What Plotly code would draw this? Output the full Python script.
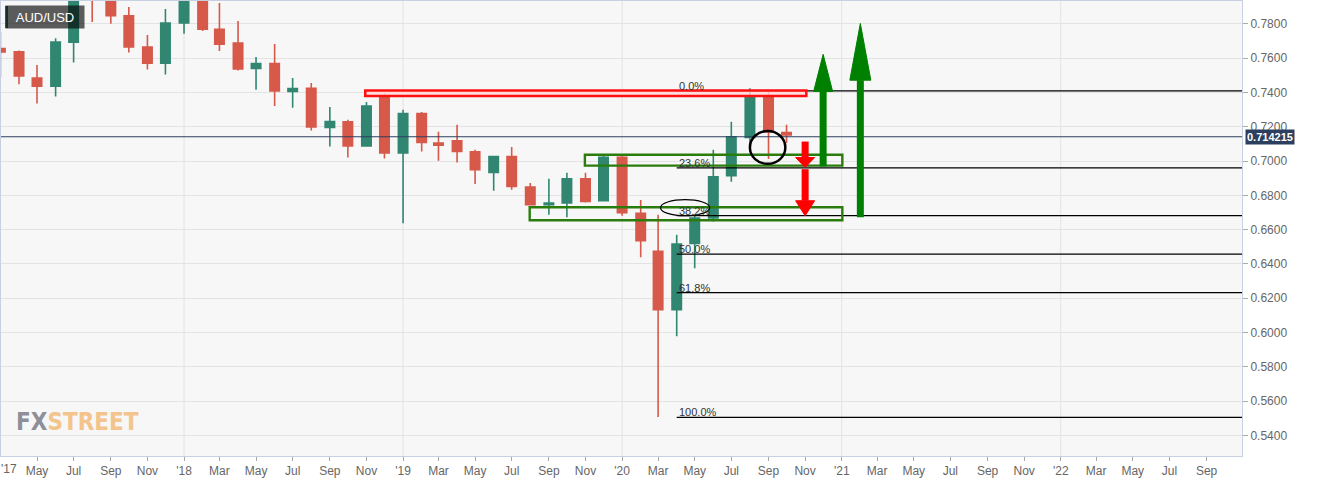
import pandas as pd
import plotly.graph_objects as go

# monthly AUD/USD candles
months = [
    '2017-03', '2017-04', '2017-05', '2017-06', '2017-07', '2017-08', '2017-09', '2017-10', '2017-11', '2017-12',
    '2018-01', '2018-02', '2018-03', '2018-04', '2018-05', '2018-06', '2018-07', '2018-08', '2018-09', '2018-10',
    '2018-11', '2018-12', '2019-01', '2019-02', '2019-03', '2019-04', '2019-05', '2019-06', '2019-07', '2019-08',
    '2019-09', '2019-10', '2019-11', '2019-12', '2020-01', '2020-02', '2020-03', '2020-04', '2020-05', '2020-06',
    '2020-07', '2020-08', '2020-09', '2020-10',
]
opens = [
    0.7656, 0.7637, 0.7484, 0.7437, 0.7693, 0.7995, 0.7950, 0.7847, 0.7666, 0.7571,
    0.7806, 0.8090, 0.7769, 0.7689, 0.7540, 0.7569, 0.7406, 0.7425, 0.7196, 0.7229,
    0.7089, 0.7375, 0.7047, 0.7277, 0.7105, 0.7118, 0.7054, 0.6934, 0.7027, 0.6849,
    0.6746, 0.6756, 0.6897, 0.6769, 0.7022, 0.6695, 0.6474, 0.6134, 0.6520, 0.6668,
    0.6915, 0.7138, 0.7375, 0.7167,
]
highs = [
    0.7753, 0.7645, 0.7561, 0.7717, 0.8066, 0.8066, 0.8125, 0.7899, 0.7736, 0.7887,
    0.8136, 0.8135, 0.7922, 0.7817, 0.7608, 0.7683, 0.7485, 0.7456, 0.7316, 0.7241,
    0.7345, 0.7394, 0.7299, 0.7287, 0.7171, 0.7212, 0.7066, 0.7031, 0.7083, 0.6873,
    0.6897, 0.6932, 0.6932, 0.7041, 0.7041, 0.6773, 0.6687, 0.6571, 0.6684, 0.7066,
    0.7229, 0.7425, 0.7410, 0.7212,
]
lows = [
    0.7491, 0.7449, 0.7336, 0.7377, 0.7575, 0.7812, 0.7802, 0.7633, 0.7534, 0.7505,
    0.7743, 0.7759, 0.7643, 0.7528, 0.7416, 0.7322, 0.7312, 0.7178, 0.7085, 0.7021,
    0.7089, 0.7015, 0.6637, 0.7056, 0.7002, 0.6992, 0.6866, 0.6827, 0.6833, 0.6744,
    0.6687, 0.6672, 0.6759, 0.6765, 0.6682, 0.6439, 0.5507, 0.5978, 0.6375, 0.6648,
    0.6880, 0.7080, 0.7012, 0.7105,
]
closes = [
    0.7637, 0.7497, 0.7437, 0.7695, 0.7995, 0.7950, 0.7848, 0.7666, 0.7571, 0.7806,
    0.8090, 0.7769, 0.7682, 0.7538, 0.7569, 0.7410, 0.7423, 0.7200, 0.7231, 0.7089,
    0.7321, 0.7047, 0.7277, 0.7109, 0.7093, 0.7056, 0.6950, 0.7027, 0.6852, 0.6746,
    0.6756, 0.6897, 0.6765, 0.7022, 0.6699, 0.6536, 0.6134, 0.6516, 0.6668, 0.6909,
    0.7142, 0.7375, 0.7170, 0.7152,
]
last_price = 0.714215

# fibonacci retracement, swing high (Sep 20) to swing low (Mar 20)
fib_high = 0.7410
fib_low = 0.5505
fib_ratios = [0.0, 0.236, 0.382, 0.5, 0.618, 1.0]
fib_labels = ['0.0%', '23.6%', '38.2%', '50.0%', '61.8%', '100.0%']

y_ticks = [0.54, 0.56, 0.58, 0.60, 0.62, 0.64, 0.66, 0.68, 0.70, 0.72, 0.74, 0.76, 0.78]
first_tick_text = "'17"   # sits right on the left edge, drawn as a note
x_tick_text = [
    'May', 'Jul', 'Sep', 'Nov',
    "'18", 'Mar', 'May', 'Jul', 'Sep', 'Nov',
    "'19", 'Mar', 'May', 'Jul', 'Sep', 'Nov',
    "'20", 'Mar', 'May', 'Jul', 'Sep', 'Nov',
    "'21", 'Mar', 'May', 'Jul', 'Sep', 'Nov',
    "'22", 'Mar', 'May', 'Jul', 'Sep',
]
x_tick_vals = pd.date_range('2017-05-01', periods=len(x_tick_text), freq='2MS')
year_lines = ['2018-01-01', '2019-01-01', '2020-01-01', '2021-01-01', '2022-01-01']

X_START, X_END = '2017-03-02', '2022-10-30'
UP, DOWN = '#318672', '#d6594a'

fig = go.Figure()
fig.add_trace(go.Candlestick(
    x=pd.to_datetime(months),
    open=opens, high=highs, low=lows, close=closes,
    increasing=dict(line=dict(color=UP, width=1.6), fillcolor=UP),
    decreasing=dict(line=dict(color=DOWN, width=1.6), fillcolor=DOWN),
    whiskerwidth=0,
    showlegend=False,
))

# year grid lines
for d in year_lines:
    fig.add_shape(type='line', x0=d, x1=d, yref='paper', y0=0, y1=1,
                  line=dict(color='#e3e3e3', width=1), layer='below')

# last price line
fig.add_shape(type='line', xref='paper', x0=0, x1=1, y0=last_price, y1=last_price,
              line=dict(color='#2c3f5e', width=1.2))

# fib levels
for r, lab in zip(fib_ratios, fib_labels):
    lvl = fib_high - (fib_high - fib_low) * r
    fig.add_shape(type='line', x0='2020-04-01', x1=X_END, y0=lvl, y1=lvl,
                  line=dict(color='black', width=1.2))
    fig.add_annotation(x='2020-04-01', y=lvl, text=lab, showarrow=False,
                       xanchor='left', yanchor='bottom', yshift=-3,
                       font=dict(size=11, color='#333', family='Arial'))

# resistance / support boxes
fig.add_shape(type='rect', x0='2018-10-30', x1='2020-11-03', y0=0.7380, y1=0.7412,
              line=dict(color='#ff1010', width=2.5), fillcolor='rgba(255,215,215,0.8)')
fig.add_shape(type='rect', x0='2019-10-31', x1='2021-01-02', y0=0.6974, y1=0.7037,
              line=dict(color='#2a7d0c', width=2.4))
fig.add_shape(type='rect', x0='2019-07-31', x1='2021-01-02', y0=0.6655, y1=0.6731,
              line=dict(color='#2a7d0c', width=2.4))

# circle and ellipse markups
fig.add_shape(type='circle', x0='2020-08-01', x1='2020-09-29', y0=0.6984, y1=0.7176,
              line=dict(color='black', width=2.5))
fig.add_shape(type='circle', x0='2020-03-05', x1='2020-05-26', y0=0.6682, y1=0.6775,
              line=dict(color='black', width=1.2))


def add_arrow(x, y_tail, y_base, y_tip, color, head_w):
    fig.add_shape(type='line', x0=x, x1=x, y0=y_tail, y1=y_base,
                  line=dict(color=color, width=7))
    h = head_w / 2
    fig.add_shape(type='path', xsizemode='pixel', xanchor=x,
                  path=f'M {-h},{y_base} L {h},{y_base} L 0,{y_tip} Z',
                  fillcolor=color, line=dict(color=color, width=1))


add_arrow('2020-11-01', 0.7114, 0.7021, 0.6963, '#ff0000', 19)
add_arrow('2020-11-01', 0.6953, 0.6769, 0.6681, '#ff0000', 19)
add_arrow('2020-12-01', 0.6969, 0.7406, 0.7623, '#008000', 19)
add_arrow('2021-02-01', 0.6672, 0.7472, 0.7803, '#008000', 21)

# symbol tag, top left
fig.add_shape(type='rect', xref='paper', yref='paper',
              x0=4 / 1241, x1=7 / 1241, y0=1 - 27 / 455, y1=1 - 5 / 455,
              line=dict(width=0), fillcolor=UP)
fig.add_annotation(xref='paper', yref='paper', x=4 / 1241, y=1 - 4 / 455,
                   xanchor='left', yanchor='top', showarrow=False,
                   text='AUD/USD', width=72, height=16, borderpad=3,
                   bgcolor='rgba(0,0,0,0.63)',
                   font=dict(size=13, color='white', family='Arial'))

# last price tag
fig.add_annotation(xref='paper', x=1, y=last_price, xanchor='left', xshift=3,
                   text=f'<b>{last_price:.6f}</b>', showarrow=False,
                   bgcolor='#2c3f5e', borderpad=1,
                   font=dict(size=11, color='white', family='Arial'))

# first x label, cut by the left edge
fig.add_annotation(xref='paper', yref='paper', x=0, y=0, xanchor='left', yanchor='top',
                   yshift=-4, xshift=-2, text=first_tick_text, showarrow=False,
                   font=dict(size=12, color='#666', family='Arial'))

# watermark
fig.add_annotation(xref='paper', yref='paper', x=13 / 1241, y=0.074,
                   xanchor='left', yanchor='middle', showarrow=False,
                   text='<b><span style="color:#8e9099">FX</span>'
                        '<span style="color:#f3c48c">STREET</span></b>',
                   font=dict(size=24, family='DejaVu Sans Condensed'))

fig.update_layout(
    width=1319, height=481,
    margin=dict(l=1, r=77, t=1, b=25),
    paper_bgcolor='white',
    plot_bgcolor='#f7f7f7',
    boxgap=0.2,
    showlegend=False,
    xaxis=dict(
        type='date', range=[X_START, X_END],
        rangeslider=dict(visible=False),
        tickvals=x_tick_vals, ticktext=x_tick_text,
        showgrid=False, zeroline=False,
        ticks='outside', ticklen=4, tickcolor='#aaa',
        showline=True, linecolor='#c8cfe0', mirror=True,
        tickfont=dict(size=12, color='#666', family='Arial'),
    ),
    yaxis=dict(
        side='right', range=[0.528, 0.7934],
        tickvals=y_ticks, tickformat='.4f',
        gridcolor='#e3e3e3', zeroline=False,
        ticks='outside', ticklen=5, tickcolor='#aaa',
        showline=True, linecolor='#c8cfe0', mirror=True,
        tickfont=dict(size=12, color='#666', family='Arial'),
    ),
)

fig.write_html('out.html', config={'displayModeBar': False},
               post_script="document.body.style.margin='0';")
